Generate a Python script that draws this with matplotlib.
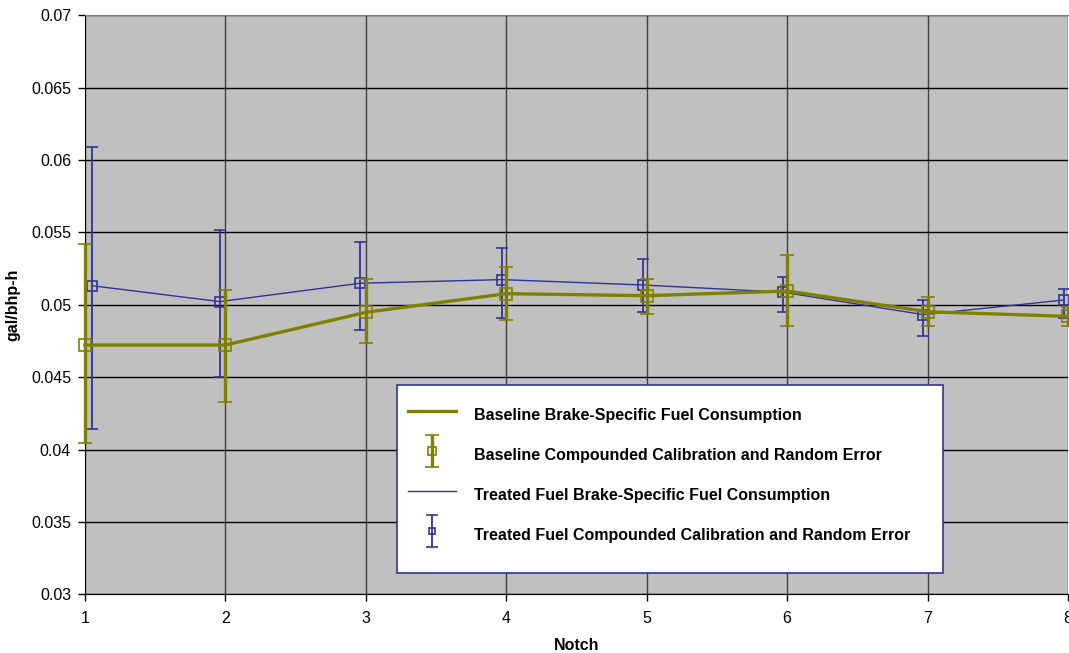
import matplotlib
matplotlib.use('Agg')
from matplotlib import pyplot as plt
from matplotlib.patches import Rectangle
from matplotlib.legend_handler import HandlerErrorbar
import numpy as np

plt.rcParams['font.family'] = ['Liberation Sans', 'DejaVu Sans']

# Baseline fuel
notch_base = [1, 2, 3, 4, 5, 6, 7, 8]
bsfc_base = [0.04722, 0.04722, 0.04948, 0.05077, 0.05063, 0.05095, 0.04952, 0.04920]
base_hi = [0.05418, 0.05100, 0.05178, 0.05259, 0.05176, 0.05344, 0.05056, 0.04985]
base_lo = [0.04043, 0.04327, 0.04734, 0.04895, 0.04934, 0.04852, 0.04852, 0.04854]

# Treated fuel (x slightly shifted in the source sheet)
notch_trt = [1.05, 1.96, 2.96, 3.97, 4.97, 5.97, 6.97, 7.97]
bsfc_trt = [0.05132, 0.05022, 0.05149, 0.05174, 0.05137, 0.05087, 0.04932, 0.05033]
trt_hi = [0.0609, 0.05517, 0.05436, 0.05395, 0.05317, 0.05194, 0.05033, 0.05111]
trt_lo = [0.0414, 0.04501, 0.04826, 0.04909, 0.04952, 0.04952, 0.04787, 0.04911]

labels = ['Baseline Brake-Specific Fuel Consumption',
          'Baseline Compounded Calibration and Random Error',
          'Treated Fuel Brake-Specific Fuel Consumption',
          'Treated Fuel Compounded Calibration and Random Error']

OLIVE = '#808000'
NAVY = '#333399'

fig = plt.figure(figsize=(10.69, 6.53), dpi=100)
ax = fig.add_axes([85/1069, 1 - 594.3/653, 983/1069, 579/653])
ax.set_facecolor('#C0C0C0')

def errs(y, hi, lo):
    y = np.array(y)
    return [y - np.array(lo), np.array(hi) - y]

# treated first, baseline drawn over it
l_trt, = ax.plot(notch_trt, bsfc_trt, color=NAVY, lw=1.0, zorder=3, clip_on=False)
e_trt = ax.errorbar(notch_trt, bsfc_trt, yerr=errs(bsfc_trt, trt_hi, trt_lo), fmt='s',
                    ms=7, mfc='none', mec=NAVY, mew=1.2, ecolor=NAVY, elinewidth=1.3,
                    capsize=4.3, capthick=1.3, zorder=4, clip_on=False)
l_base, = ax.plot(notch_base, bsfc_base, color=OLIVE, lw=2.4, zorder=5, clip_on=False)
e_base = ax.errorbar(notch_base, bsfc_base, yerr=errs(bsfc_base, base_hi, base_lo), fmt='s',
                     ms=8.5, mfc='none', mec=OLIVE, mew=1.2, ecolor=OLIVE, elinewidth=2.4,
                     capsize=5, capthick=2.4, zorder=6, clip_on=False)
for c in (e_trt, e_base):
    for a in c.lines[1] + c.lines[2]:
        a.set_clip_on(False)

ax.set_xlim(1, 8)
ax.set_ylim(0.03, 0.07)
ax.set_xticks(range(1, 9))
ax.set_yticks(np.arange(0.03, 0.0701, 0.005))
ax.set_yticklabels(['0.03', '0.035', '0.04', '0.045', '0.05', '0.055', '0.06', '0.065', '0.07'])
ax.tick_params(axis='both', direction='out', length=5, width=1, labelsize=11.5, colors='black')
ax.tick_params(axis='x', pad=7)
ax.tick_params(axis='y', pad=5)

ax.grid(axis='y', color='black', lw=1.0)
ax.grid(axis='x', color='#404040', lw=1.0)
ax.set_axisbelow(True)

ax.spines['top'].set_color('#808080')
ax.spines['right'].set_visible(False)
ax.spines['left'].set_color('black')
ax.spines['bottom'].set_color('black')

ax.set_xlabel('Notch', fontsize=11.5, fontweight='bold')
ax.xaxis.set_label_coords(0.5, -0.076)
ax.set_ylabel('gal/bhp-h', fontsize=11.5, fontweight='bold')
ax.yaxis.set_label_coords(-0.066, 0.5)

# legend box drawn separately so its size matches
box = Rectangle((0.317, 0.0368), 0.556, 0.3247, transform=ax.transAxes,
                facecolor='white', edgecolor=NAVY, lw=1.2, zorder=9)
ax.add_patch(box)
leg = ax.legend([l_base, e_base, l_trt, e_trt], labels, loc='upper left',
                bbox_to_anchor=(0.317, 0.351), frameon=False,
                prop={'weight': 'bold', 'size': 11.5}, borderpad=0.7, labelspacing=0.9,
                handlelength=3.0, handleheight=2.1, handletextpad=1.15,
                markerscale=0.6, borderaxespad=0,
                handler_map={e_base: HandlerErrorbar(yerr_size=1.0),
                             e_trt: HandlerErrorbar(yerr_size=1.0)})
leg.set_zorder(10)

fig.savefig('out.png', dpi=100)
